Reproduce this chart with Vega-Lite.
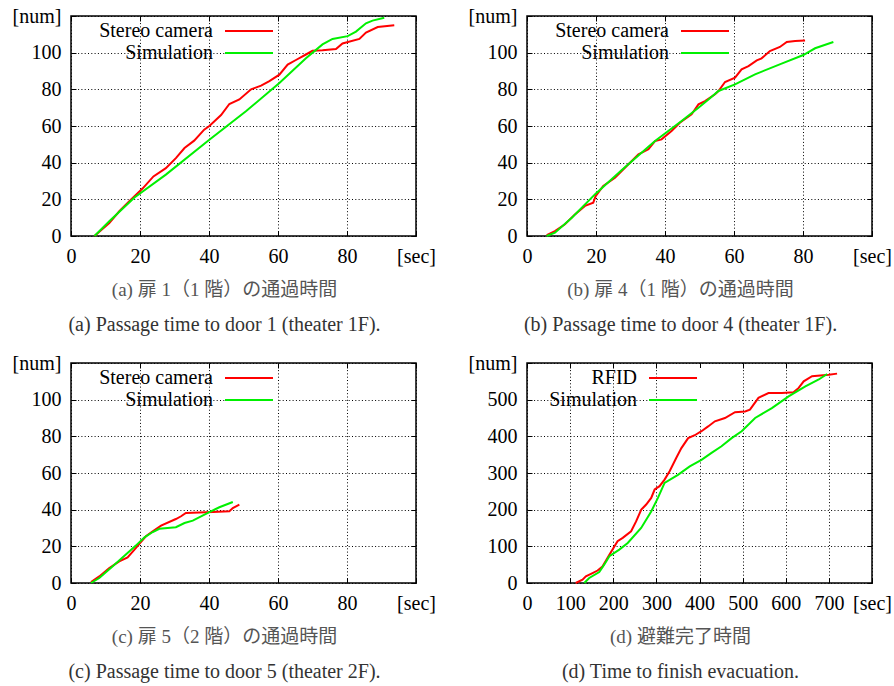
{
  "$schema": "https://vega.github.io/schema/vega-lite/v6.json",
  "background": "white",
  "padding": {"left": 11, "top": 5, "right": 5, "bottom": 5},
  "config": {
    "view": {"stroke": "black", "strokeWidth": 1.5},
    "font": "Liberation Serif",
    "axis": {
      "domain": false,
      "gridColor": "black", "gridDash": [1, 2.3], "gridWidth": 1, "gridOpacity": 1,
      "tickSize": -5, "tickColor": "black", "tickWidth": 1,
      "labelPadding": 15, "labelFontSize": 20, "labelFont": "Liberation Serif", "labelColor": "black",
      "labelOverlap": false, "labelFlush": false, "title": null
    },
    "legend": {
      "orient": "none", "direction": "vertical",
      "symbolType": "M-3,0H3", "symbolSize": 256, "symbolStrokeWidth": 2.2,
      "labelAlign": "right", "labelOffset": -46, "labelFontSize": 20, "labelFont": "Liberation Serif",
      "labelColor": "black", "labelLimit": 400, "rowPadding": 2, "padding": 0, "title": null,
      "fillColor": "white"
    },
    "title": {
      "orient": "bottom", "anchor": "middle", "dx": -19, "offset": 15,
      "font": "Liberation Serif, Noto Sans CJK JP", "fontSize": 19, "fontWeight": "normal", "color": "#555555",
      "subtitleFont": "Liberation Serif", "subtitleFontSize": 20, "subtitleColor": "#333333", "subtitlePadding": 15
    }
  },
  "datasets": {
    "a": [
      {"t": 6.8, "n": 0, "s": "Stereo camera"}, {"t": 11.1, "n": 7, "s": "Stereo camera"}, {"t": 14, "n": 13.5, "s": "Stereo camera"},
      {"t": 16.9, "n": 19, "s": "Stereo camera"}, {"t": 20.8, "n": 26, "s": "Stereo camera"}, {"t": 23.9, "n": 32.5, "s": "Stereo camera"},
      {"t": 27.5, "n": 37, "s": "Stereo camera"}, {"t": 30.4, "n": 42.5, "s": "Stereo camera"}, {"t": 32.9, "n": 48, "s": "Stereo camera"},
      {"t": 35.7, "n": 52, "s": "Stereo camera"}, {"t": 38.6, "n": 58, "s": "Stereo camera"}, {"t": 40.1, "n": 60, "s": "Stereo camera"},
      {"t": 43.5, "n": 66, "s": "Stereo camera"}, {"t": 45.9, "n": 72, "s": "Stereo camera"}, {"t": 48.8, "n": 74.5, "s": "Stereo camera"},
      {"t": 52.2, "n": 80, "s": "Stereo camera"}, {"t": 55.1, "n": 82, "s": "Stereo camera"}, {"t": 57.5, "n": 84.5, "s": "Stereo camera"},
      {"t": 60.4, "n": 88, "s": "Stereo camera"}, {"t": 62.8, "n": 93.5, "s": "Stereo camera"}, {"t": 65.2, "n": 96, "s": "Stereo camera"},
      {"t": 68.1, "n": 99, "s": "Stereo camera"}, {"t": 70, "n": 101, "s": "Stereo camera"}, {"t": 72.9, "n": 101.3, "s": "Stereo camera"},
      {"t": 76.8, "n": 102, "s": "Stereo camera"}, {"t": 78.7, "n": 105, "s": "Stereo camera"}, {"t": 83.6, "n": 107.5, "s": "Stereo camera"},
      {"t": 85.5, "n": 111, "s": "Stereo camera"}, {"t": 88.9, "n": 114, "s": "Stereo camera"}, {"t": 93.7, "n": 115, "s": "Stereo camera"},
      {"t": 6.8, "n": 0, "s": "Simulation"}, {"t": 11.1, "n": 8, "s": "Simulation"}, {"t": 18.4, "n": 21, "s": "Simulation"},
      {"t": 27.5, "n": 33.5, "s": "Simulation"}, {"t": 40.1, "n": 52.5, "s": "Simulation"}, {"t": 50.7, "n": 68, "s": "Simulation"},
      {"t": 60.4, "n": 83.5, "s": "Simulation"}, {"t": 68.1, "n": 97, "s": "Simulation"}, {"t": 72.9, "n": 104.5, "s": "Simulation"},
      {"t": 75.8, "n": 107.5, "s": "Simulation"}, {"t": 80.2, "n": 109, "s": "Simulation"}, {"t": 82.6, "n": 111.5, "s": "Simulation"},
      {"t": 85.5, "n": 116, "s": "Simulation"}, {"t": 87.4, "n": 117.5, "s": "Simulation"}, {"t": 90.8, "n": 119, "s": "Simulation"}
    ],
    "b": [
      {"t": 5.7, "n": 0.5, "s": "Stereo camera"}, {"t": 8.1, "n": 2.7, "s": "Stereo camera"}, {"t": 11, "n": 6.4, "s": "Stereo camera"},
      {"t": 13.9, "n": 11.8, "s": "Stereo camera"}, {"t": 16.8, "n": 16.4, "s": "Stereo camera"}, {"t": 19.2, "n": 18.2, "s": "Stereo camera"},
      {"t": 19.9, "n": 21.8, "s": "Stereo camera"}, {"t": 22.1, "n": 27.3, "s": "Stereo camera"}, {"t": 25.5, "n": 31.8, "s": "Stereo camera"},
      {"t": 28.9, "n": 38.2, "s": "Stereo camera"}, {"t": 32.3, "n": 44.5, "s": "Stereo camera"}, {"t": 35.2, "n": 47.3, "s": "Stereo camera"},
      {"t": 37.1, "n": 51.8, "s": "Stereo camera"}, {"t": 39, "n": 52.7, "s": "Stereo camera"}, {"t": 41.9, "n": 57.3, "s": "Stereo camera"},
      {"t": 44.3, "n": 61.8, "s": "Stereo camera"}, {"t": 47.7, "n": 66.4, "s": "Stereo camera"}, {"t": 49.7, "n": 71.8, "s": "Stereo camera"},
      {"t": 51.6, "n": 73.6, "s": "Stereo camera"}, {"t": 54.5, "n": 77.3, "s": "Stereo camera"}, {"t": 55.5, "n": 79.1, "s": "Stereo camera"},
      {"t": 57.4, "n": 84, "s": "Stereo camera"}, {"t": 60.3, "n": 86.4, "s": "Stereo camera"}, {"t": 62.2, "n": 90.9, "s": "Stereo camera"},
      {"t": 64.2, "n": 92.7, "s": "Stereo camera"}, {"t": 66.6, "n": 95.8, "s": "Stereo camera"}, {"t": 68, "n": 96.9, "s": "Stereo camera"},
      {"t": 70.4, "n": 100.9, "s": "Stereo camera"}, {"t": 73.3, "n": 103.1, "s": "Stereo camera"}, {"t": 75.3, "n": 105.8, "s": "Stereo camera"},
      {"t": 77.7, "n": 106.4, "s": "Stereo camera"}, {"t": 80.6, "n": 106.7, "s": "Stereo camera"},
      {"t": 5.7, "n": 0, "s": "Simulation"}, {"t": 8.1, "n": 1.8, "s": "Simulation"}, {"t": 13, "n": 10, "s": "Simulation"},
      {"t": 19.9, "n": 23.1, "s": "Simulation"}, {"t": 27.4, "n": 35.8, "s": "Simulation"}, {"t": 37.1, "n": 51.8, "s": "Simulation"},
      {"t": 44.8, "n": 62.7, "s": "Simulation"}, {"t": 49.7, "n": 70, "s": "Simulation"}, {"t": 52.6, "n": 74.5, "s": "Simulation"},
      {"t": 55.5, "n": 79.1, "s": "Simulation"}, {"t": 60.3, "n": 82.7, "s": "Simulation"}, {"t": 66.1, "n": 88.2, "s": "Simulation"},
      {"t": 73.8, "n": 94, "s": "Simulation"}, {"t": 80.1, "n": 98.7, "s": "Simulation"}, {"t": 83.5, "n": 102.4, "s": "Simulation"},
      {"t": 88.8, "n": 105.8, "s": "Simulation"}
    ],
    "c": [
      {"t": 5.8, "n": 0.5, "s": "Stereo camera"}, {"t": 8.2, "n": 3.6, "s": "Stereo camera"}, {"t": 11.1, "n": 8.2, "s": "Stereo camera"},
      {"t": 14, "n": 11.8, "s": "Stereo camera"}, {"t": 16.4, "n": 14, "s": "Stereo camera"}, {"t": 18.4, "n": 18.2, "s": "Stereo camera"},
      {"t": 20, "n": 21.8, "s": "Stereo camera"}, {"t": 21.7, "n": 25.5, "s": "Stereo camera"}, {"t": 23.7, "n": 28.2, "s": "Stereo camera"},
      {"t": 26.1, "n": 31.3, "s": "Stereo camera"}, {"t": 30.4, "n": 34.9, "s": "Stereo camera"}, {"t": 31.9, "n": 36.4, "s": "Stereo camera"},
      {"t": 33.3, "n": 38.2, "s": "Stereo camera"}, {"t": 37.2, "n": 38.5, "s": "Stereo camera"}, {"t": 41.1, "n": 38.7, "s": "Stereo camera"},
      {"t": 45.9, "n": 39.1, "s": "Stereo camera"}, {"t": 46.9, "n": 40.9, "s": "Stereo camera"}, {"t": 48.8, "n": 42.7, "s": "Stereo camera"},
      {"t": 5.8, "n": 0, "s": "Simulation"}, {"t": 8.2, "n": 2.7, "s": "Simulation"}, {"t": 12.1, "n": 9.1, "s": "Simulation"},
      {"t": 15.9, "n": 15.5, "s": "Simulation"}, {"t": 18.8, "n": 20.4, "s": "Simulation"}, {"t": 21.3, "n": 24.9, "s": "Simulation"},
      {"t": 23.7, "n": 27.8, "s": "Simulation"}, {"t": 25.6, "n": 29.6, "s": "Simulation"}, {"t": 30.4, "n": 30.4, "s": "Simulation"},
      {"t": 32.9, "n": 32.7, "s": "Simulation"}, {"t": 35.3, "n": 34, "s": "Simulation"}, {"t": 40.1, "n": 38.7, "s": "Simulation"},
      {"t": 43, "n": 41.3, "s": "Simulation"}, {"t": 46.9, "n": 44.2, "s": "Simulation"}
    ],
    "d": [
      {"t": 113, "n": 0, "s": "RFID"}, {"t": 128.7, "n": 9, "s": "RFID"}, {"t": 136.5, "n": 18, "s": "RFID"},
      {"t": 152, "n": 27, "s": "RFID"}, {"t": 163.7, "n": 34, "s": "RFID"}, {"t": 175, "n": 45, "s": "RFID"},
      {"t": 191, "n": 77, "s": "RFID"}, {"t": 210, "n": 114, "s": "RFID"}, {"t": 222, "n": 123, "s": "RFID"},
      {"t": 241.4, "n": 141, "s": "RFID"}, {"t": 253, "n": 168, "s": "RFID"}, {"t": 265, "n": 200, "s": "RFID"},
      {"t": 276.4, "n": 214, "s": "RFID"}, {"t": 288, "n": 232, "s": "RFID"}, {"t": 296, "n": 255, "s": "RFID"},
      {"t": 307.4, "n": 264, "s": "RFID"}, {"t": 319, "n": 282, "s": "RFID"}, {"t": 330.7, "n": 305, "s": "RFID"},
      {"t": 338.5, "n": 323, "s": "RFID"}, {"t": 346, "n": 341, "s": "RFID"}, {"t": 358, "n": 368, "s": "RFID"},
      {"t": 373.7, "n": 395, "s": "RFID"}, {"t": 389, "n": 403, "s": "RFID"}, {"t": 404.6, "n": 414, "s": "RFID"},
      {"t": 420, "n": 427, "s": "RFID"}, {"t": 435.7, "n": 441, "s": "RFID"}, {"t": 459, "n": 450, "s": "RFID"},
      {"t": 482.3, "n": 466, "s": "RFID"}, {"t": 505.6, "n": 468, "s": "RFID"}, {"t": 517, "n": 473, "s": "RFID"},
      {"t": 536.7, "n": 505, "s": "RFID"}, {"t": 560, "n": 518, "s": "RFID"}, {"t": 591, "n": 518, "s": "RFID"},
      {"t": 618, "n": 520, "s": "RFID"}, {"t": 630, "n": 532, "s": "RFID"}, {"t": 641.6, "n": 550, "s": "RFID"},
      {"t": 661, "n": 564, "s": "RFID"}, {"t": 700, "n": 568, "s": "RFID"}, {"t": 719, "n": 571, "s": "RFID"},
      {"t": 132.7, "n": 0, "s": "Simulation"}, {"t": 144.3, "n": 13.6, "s": "Simulation"}, {"t": 167.6, "n": 30, "s": "Simulation"},
      {"t": 179, "n": 50, "s": "Simulation"}, {"t": 191, "n": 73, "s": "Simulation"}, {"t": 214, "n": 91, "s": "Simulation"},
      {"t": 233.6, "n": 109, "s": "Simulation"}, {"t": 264.7, "n": 150, "s": "Simulation"}, {"t": 288, "n": 195, "s": "Simulation"},
      {"t": 303.6, "n": 232, "s": "Simulation"}, {"t": 319, "n": 273, "s": "Simulation"}, {"t": 350, "n": 295, "s": "Simulation"},
      {"t": 377.4, "n": 318, "s": "Simulation"}, {"t": 404.6, "n": 336, "s": "Simulation"}, {"t": 427.9, "n": 355, "s": "Simulation"},
      {"t": 451, "n": 373, "s": "Simulation"}, {"t": 474.5, "n": 395, "s": "Simulation"}, {"t": 497.8, "n": 414, "s": "Simulation"},
      {"t": 529, "n": 450, "s": "Simulation"}, {"t": 567.8, "n": 477, "s": "Simulation"}, {"t": 606.6, "n": 509, "s": "Simulation"},
      {"t": 645.5, "n": 536, "s": "Simulation"}, {"t": 676.6, "n": 555, "s": "Simulation"}, {"t": 696, "n": 570, "s": "Simulation"}
    ]
  },
  "columns": 2,
  "bounds": "flush",
  "spacing": {"row": 127, "column": 111},
  "resolve": {"scale": {"color": "independent"}, "legend": {"color": "independent"}},
  "concat": [
    {
      "width": 345, "height": 220,
      "data": {"name": "a"},
      "title": {"text": "(a) 扉 1（1 階）の通過時間", "subtitle": "(a) Passage time to door 1 (theater 1F)."},
      "resolve": {"axis": {"x": "independent", "y": "independent"}},
      "layer": [
        {
          "mark": {"type": "line", "strokeWidth": 2},
          "encoding": {
            "x": {"field": "t", "type": "quantitative", "scale": {"domain": [0, 100]},
              "axis": {"orient": "bottom", "grid": true, "values": [0, 20, 40, 60, 80, 100], "labelExpr": "datum.value == 100 ? '[sec]' : datum.label"}},
            "y": {"field": "n", "type": "quantitative", "scale": {"domain": [0, 120]},
              "axis": {"orient": "left", "grid": true, "values": [0, 20, 40, 60, 80, 100, 120], "labelExpr": "datum.value == 120 ? '[num]' : datum.label"}},
            "color": {"field": "s", "type": "nominal",
              "scale": {"domain": ["Stereo camera", "Simulation"], "range": ["#ff0000", "#00f000"]},
              "legend": {"legendX": 168, "legendY": 5}}
          }
        },
        {
          "mark": {"type": "point", "opacity": 0},
          "encoding": {
            "x": {"field": "t", "type": "quantitative", "axis": {"orient": "top", "grid": false, "labels": false, "values": [0, 20, 40, 60, 80, 100]}},
            "y": {"field": "n", "type": "quantitative", "axis": {"orient": "right", "grid": false, "labels": false, "values": [0, 20, 40, 60, 80, 100, 120]}}
          }
        }
      ]
    },
    {
      "width": 345, "height": 220,
      "data": {"name": "b"},
      "title": {"text": "(b) 扉 4（1 階）の通過時間", "subtitle": "(b) Passage time to door 4 (theater 1F)."},
      "resolve": {"axis": {"x": "independent", "y": "independent"}},
      "layer": [
        {
          "mark": {"type": "line", "strokeWidth": 2},
          "encoding": {
            "x": {"field": "t", "type": "quantitative", "scale": {"domain": [0, 100]},
              "axis": {"orient": "bottom", "grid": true, "values": [0, 20, 40, 60, 80, 100], "labelExpr": "datum.value == 100 ? '[sec]' : datum.label"}},
            "y": {"field": "n", "type": "quantitative", "scale": {"domain": [0, 120]},
              "axis": {"orient": "left", "grid": true, "values": [0, 20, 40, 60, 80, 100, 120], "labelExpr": "datum.value == 120 ? '[num]' : datum.label"}},
            "color": {"field": "s", "type": "nominal",
              "scale": {"domain": ["Stereo camera", "Simulation"], "range": ["#ff0000", "#00f000"]},
              "legend": {"legendX": 168, "legendY": 5}}
          }
        },
        {
          "mark": {"type": "point", "opacity": 0},
          "encoding": {
            "x": {"field": "t", "type": "quantitative", "axis": {"orient": "top", "grid": false, "labels": false, "values": [0, 20, 40, 60, 80, 100]}},
            "y": {"field": "n", "type": "quantitative", "axis": {"orient": "right", "grid": false, "labels": false, "values": [0, 20, 40, 60, 80, 100, 120]}}
          }
        }
      ]
    },
    {
      "width": 345, "height": 220,
      "data": {"name": "c"},
      "title": {"text": "(c) 扉 5（2 階）の通過時間", "subtitle": "(c) Passage time to door 5 (theater 2F)."},
      "resolve": {"axis": {"x": "independent", "y": "independent"}},
      "layer": [
        {
          "mark": {"type": "line", "strokeWidth": 2},
          "encoding": {
            "x": {"field": "t", "type": "quantitative", "scale": {"domain": [0, 100]},
              "axis": {"orient": "bottom", "grid": true, "values": [0, 20, 40, 60, 80, 100], "labelExpr": "datum.value == 100 ? '[sec]' : datum.label"}},
            "y": {"field": "n", "type": "quantitative", "scale": {"domain": [0, 120]},
              "axis": {"orient": "left", "grid": true, "values": [0, 20, 40, 60, 80, 100, 120], "labelExpr": "datum.value == 120 ? '[num]' : datum.label"}},
            "color": {"field": "s", "type": "nominal",
              "scale": {"domain": ["Stereo camera", "Simulation"], "range": ["#ff0000", "#00f000"]},
              "legend": {"legendX": 168, "legendY": 5}}
          }
        },
        {
          "mark": {"type": "point", "opacity": 0},
          "encoding": {
            "x": {"field": "t", "type": "quantitative", "scale": {"domain": [0, 100]}, "axis": {"orient": "top", "grid": false, "labels": false, "values": [0, 20, 40, 60, 80, 100]}},
            "y": {"field": "n", "type": "quantitative", "scale": {"domain": [0, 120]}, "axis": {"orient": "right", "grid": false, "labels": false, "values": [0, 20, 40, 60, 80, 100, 120]}}
          }
        }
      ]
    },
    {
      "width": 345, "height": 220,
      "data": {"name": "d"},
      "title": {"text": "(d) 避難完了時間", "subtitle": "(d) Time to finish evacuation."},
      "resolve": {"axis": {"x": "independent", "y": "independent"}},
      "layer": [
        {
          "mark": {"type": "line", "strokeWidth": 2},
          "encoding": {
            "x": {"field": "t", "type": "quantitative", "scale": {"domain": [0, 800]},
              "axis": {"orient": "bottom", "grid": true, "values": [0, 100, 200, 300, 400, 500, 600, 700, 800], "labelExpr": "datum.value == 800 ? '[sec]' : datum.label"}},
            "y": {"field": "n", "type": "quantitative", "scale": {"domain": [0, 600]},
              "axis": {"orient": "left", "grid": true, "values": [0, 100, 200, 300, 400, 500, 600], "labelExpr": "datum.value == 600 ? '[num]' : datum.label"}},
            "color": {"field": "s", "type": "nominal",
              "scale": {"domain": ["RFID", "Simulation"], "range": ["#ff0000", "#00f000"]},
              "legend": {"legendX": 136, "legendY": 5}}
          }
        },
        {
          "mark": {"type": "point", "opacity": 0},
          "encoding": {
            "x": {"field": "t", "type": "quantitative", "axis": {"orient": "top", "grid": false, "labels": false, "values": [0, 100, 200, 300, 400, 500, 600, 700, 800]}},
            "y": {"field": "n", "type": "quantitative", "axis": {"orient": "right", "grid": false, "labels": false, "values": [0, 100, 200, 300, 400, 500, 600]}}
          }
        }
      ]
    }
  ]
}
